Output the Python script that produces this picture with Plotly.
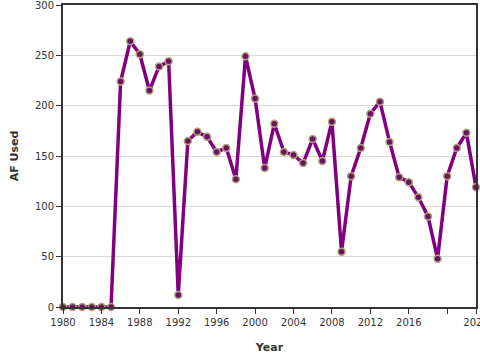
import plotly.graph_objects as go

years = list(range(1980, 2024))
af_used = [0, 0, 0, 0, 0, 0,
           224, 264, 251, 215, 239, 244, 12,
           165, 174, 169, 154, 158, 127, 249, 207,
           138, 182, 154, 151, 143, 167, 145, 184, 55, 130,
           158, 192, 204, 164, 129, 124, 109, 90, 48, 130,
           158, 173, 119]

x_tickvals = [1980, 1984, 1988, 1992, 1996, 2000, 2004, 2008, 2012, 2016, 2020, 2023]
x_ticktext = ["1980", "1984", "1988", "1992", "1996", "2000", "2004", "2008", "2012", "2016", "", "2023"]
y_tickvals = [0, 50, 100, 150, 200, 250, 300]

fig = go.Figure()
fig.add_trace(go.Scatter(
    x=years, y=af_used, mode="lines+markers",
    line=dict(color="#800080", width=3.5),
    marker=dict(size=7, color="#6a1461", line=dict(color="#b0a27c", width=1.5)),
    cliponaxis=False,
    showlegend=False,
))

font_family = "DejaVu Sans, Verdana, sans-serif"
fig.update_layout(
    width=480, height=360,
    margin=dict(l=63, r=4, t=5, b=53, autoexpand=False),
    paper_bgcolor="white", plot_bgcolor="white",
    font=dict(family=font_family, size=10, color="#333333"),
)
fig.update_xaxes(
    range=[1980, 2023], tickvals=x_tickvals, ticktext=x_ticktext,
    automargin=False, ticklabeloverflow="allow",
    showgrid=False, zeroline=False,
    showline=True, linecolor="#333333", linewidth=2, mirror=True,
    ticks="outside", ticklen=5, tickcolor="#333333",
    title=dict(text="<b>Year</b>", font=dict(size=11, color="#333333"), standoff=16),
)
fig.update_yaxes(
    range=[0, 300], tickvals=y_tickvals,
    automargin=False, ticklabeloverflow="allow",
    showgrid=True, gridcolor="#d9d9d9", gridwidth=1, zeroline=False,
    showline=True, linecolor="#333333", linewidth=2, mirror=True,
    ticks="outside", ticklen=5, tickcolor="#333333",
    title=dict(text="<b>AF Used</b>", font=dict(size=11, color="#333333"), standoff=14),
)

fig.write_html("out.html", config={"displayModeBar": False},
               post_script="document.body.style.margin='0';document.body.style.overflow='hidden';")
